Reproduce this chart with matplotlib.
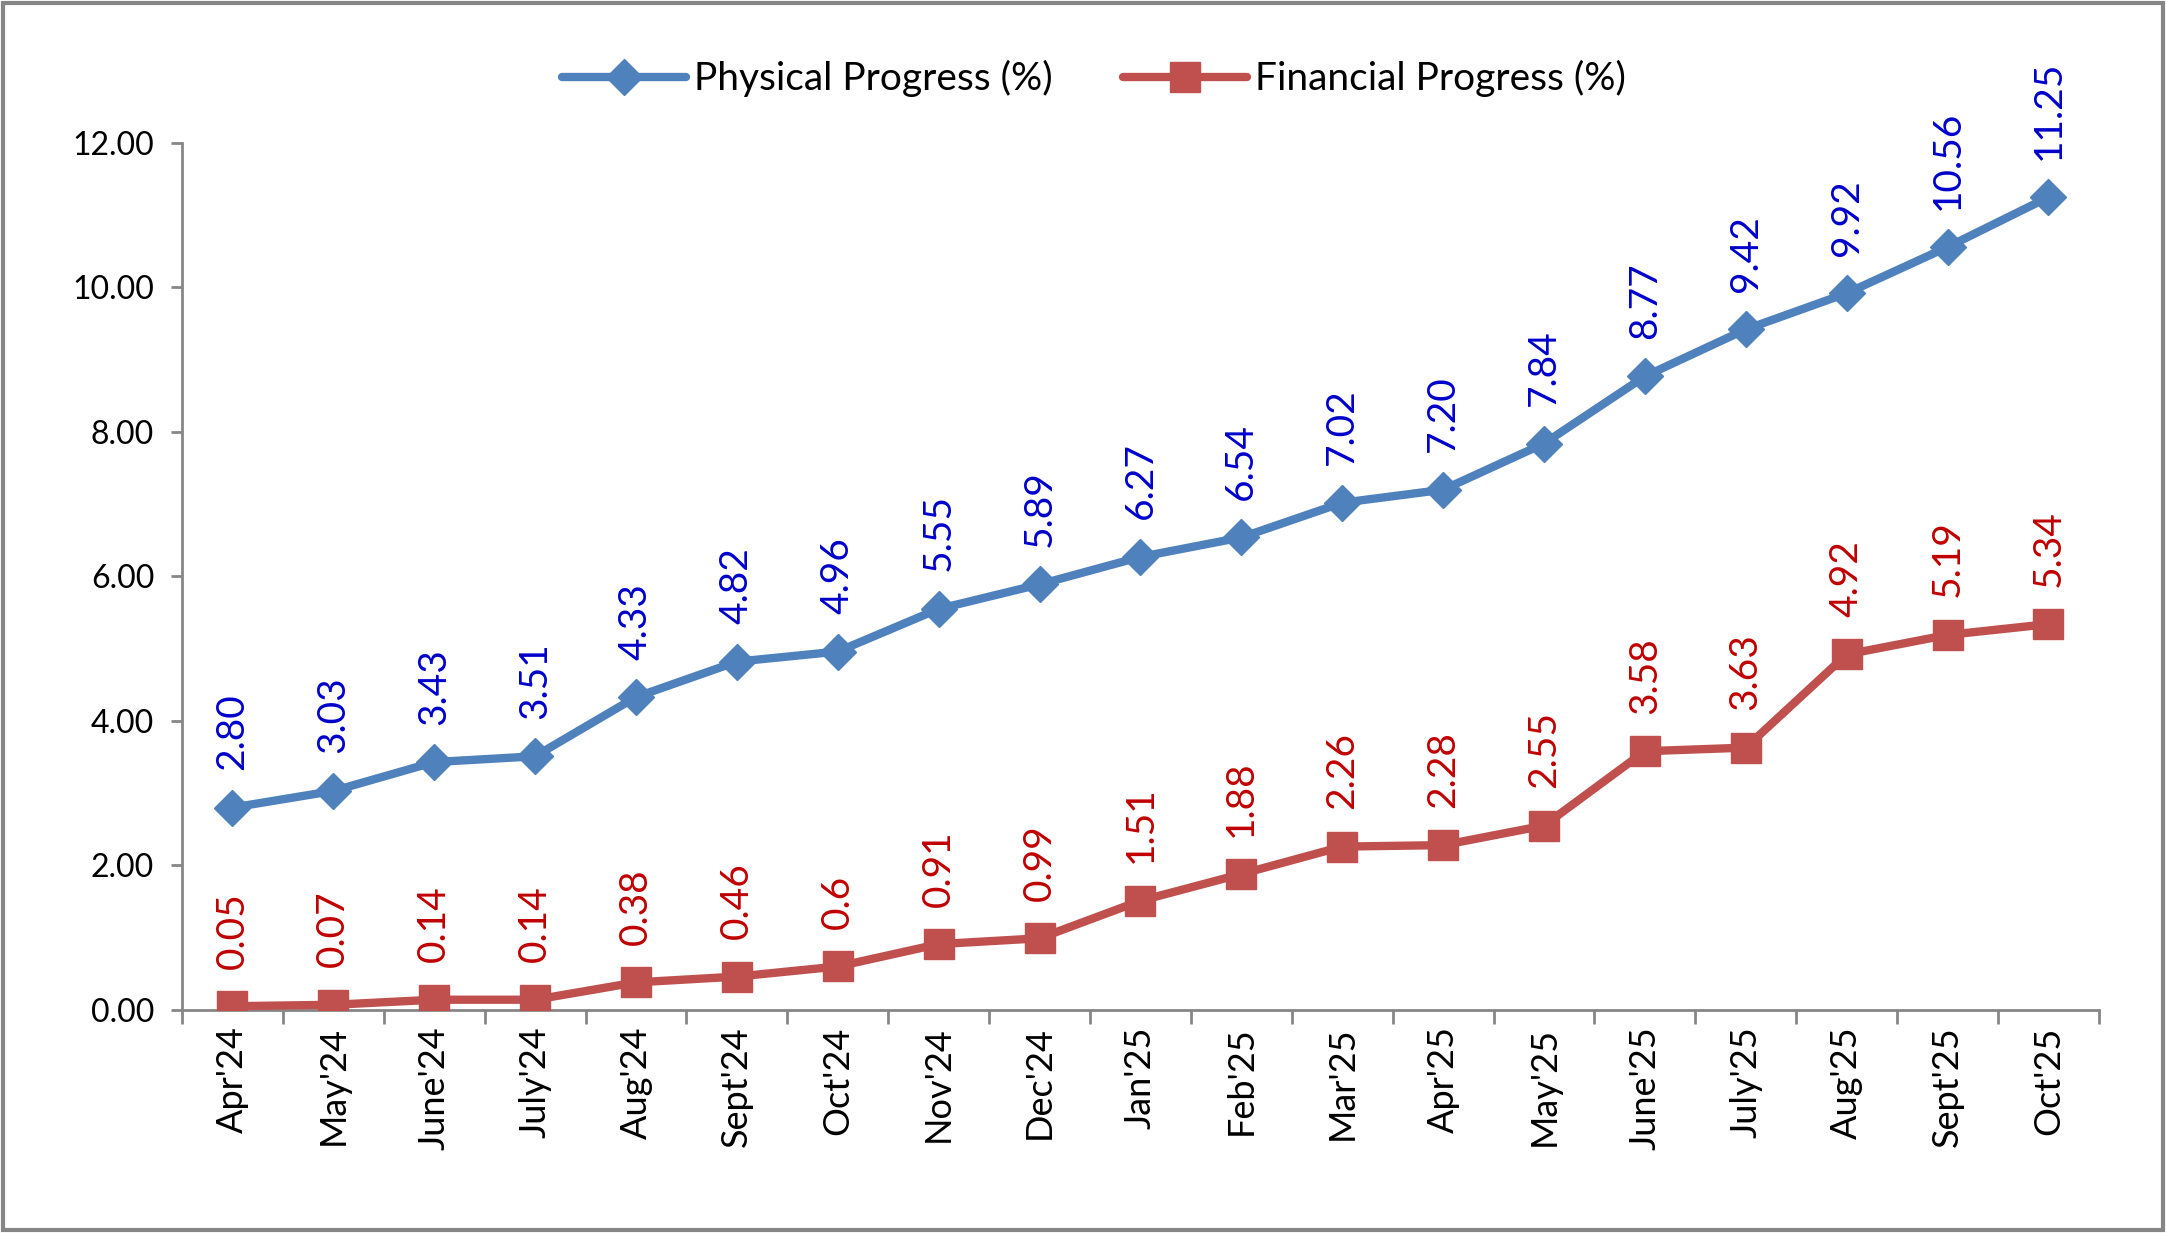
import matplotlib
matplotlib.use("Agg")
import matplotlib.pyplot as plt
from matplotlib.patches import Rectangle
import numpy as np

months = ["Apr'24", "May'24", "June'24", "July'24", "Aug'24", "Sept'24", "Oct'24",
          "Nov'24", "Dec'24", "Jan'25", "Feb'25", "Mar'25", "Apr'25", "May'25",
          "June'25", "July'25", "Aug'25", "Sept'25", "Oct'25"]
physical = [2.80, 3.03, 3.43, 3.51, 4.33, 4.82, 4.96, 5.55, 5.89, 6.27, 6.54,
            7.02, 7.20, 7.84, 8.77, 9.42, 9.92, 10.56, 11.25]
financial = [0.05, 0.07, 0.14, 0.14, 0.38, 0.46, 0.6, 0.91, 0.99, 1.51, 1.88,
             2.26, 2.28, 2.55, 3.58, 3.63, 4.92, 5.19, 5.34]
financial_labels = ["0.05", "0.07", "0.14", "0.14", "0.38", "0.46", "0.6", "0.91",
                    "0.99", "1.51", "1.88", "2.26", "2.28", "2.55", "3.58", "3.63",
                    "4.92", "5.19", "5.34"]
yticks = [0, 2, 4, 6, 8, 10, 12]

plt.rcParams['font.family'] = ['Lato', 'DejaVu Sans']

fig = plt.figure(figsize=(21.66, 12.33), dpi=100)
ax = fig.add_axes([0.084, 0.181, 0.885, 0.703])

x = np.arange(len(months))
grey = "#868686"
blue_line = "#4F81BD"
red_line = "#C0504D"

ax.plot(x, physical, color=blue_line, lw=6, marker='D', markersize=18,
        label="Physical Progress (%)", solid_capstyle='round', zorder=3)
ax.plot(x, financial, color=red_line, lw=6, marker='s', markersize=22,
        label="Financial Progress (%)", solid_capstyle='round', zorder=3)

for xi, v in zip(x, physical):
    ax.annotate(f"{v:.2f}", (xi, v), xytext=(0, 27), textcoords='offset points',
                rotation=90, ha='center', va='bottom', color="#0000CC", fontsize=28)
for xi, v, lab in zip(x, financial, financial_labels):
    ax.annotate(lab, (xi, v), xytext=(0, 27), textcoords='offset points',
                rotation=90, ha='center', va='bottom', color="#C00000", fontsize=28)

ax.set_xlim(-0.5, len(months) - 0.5)
ax.set_ylim(0, 12)
ax.set_yticks(yticks)
ax.set_yticklabels([f"{t:.2f}" for t in yticks], fontsize=23)

ax.set_xticks(np.arange(-0.5, len(months), 1.0))
ax.set_xticklabels([])
ax.set_xticks(x, minor=True)
ax.set_xticklabels(months, minor=True, rotation=90, fontsize=26)
ax.tick_params(axis='x', which='major', direction='out', length=10, width=2, color=grey)
ax.tick_params(axis='x', which='minor', length=0, pad=12)
ax.tick_params(axis='y', direction='out', length=8, width=2, color=grey, pad=12)

for s in ['top', 'right']:
    ax.spines[s].set_visible(False)
for s in ['left', 'bottom']:
    ax.spines[s].set_color(grey)
    ax.spines[s].set_linewidth(2)

leg = fig.legend(loc='center', bbox_to_anchor=(0.505, 0.936), ncol=2, frameon=False,
                 fontsize=28, handlelength=3.2, columnspacing=1.8, handletextpad=0.2)

fig.patches.append(Rectangle((0.0015, 0.0025), 0.997, 0.995, transform=fig.transFigure,
                             fill=False, edgecolor=grey, lw=3))

fig.savefig("out.png", dpi=100)
